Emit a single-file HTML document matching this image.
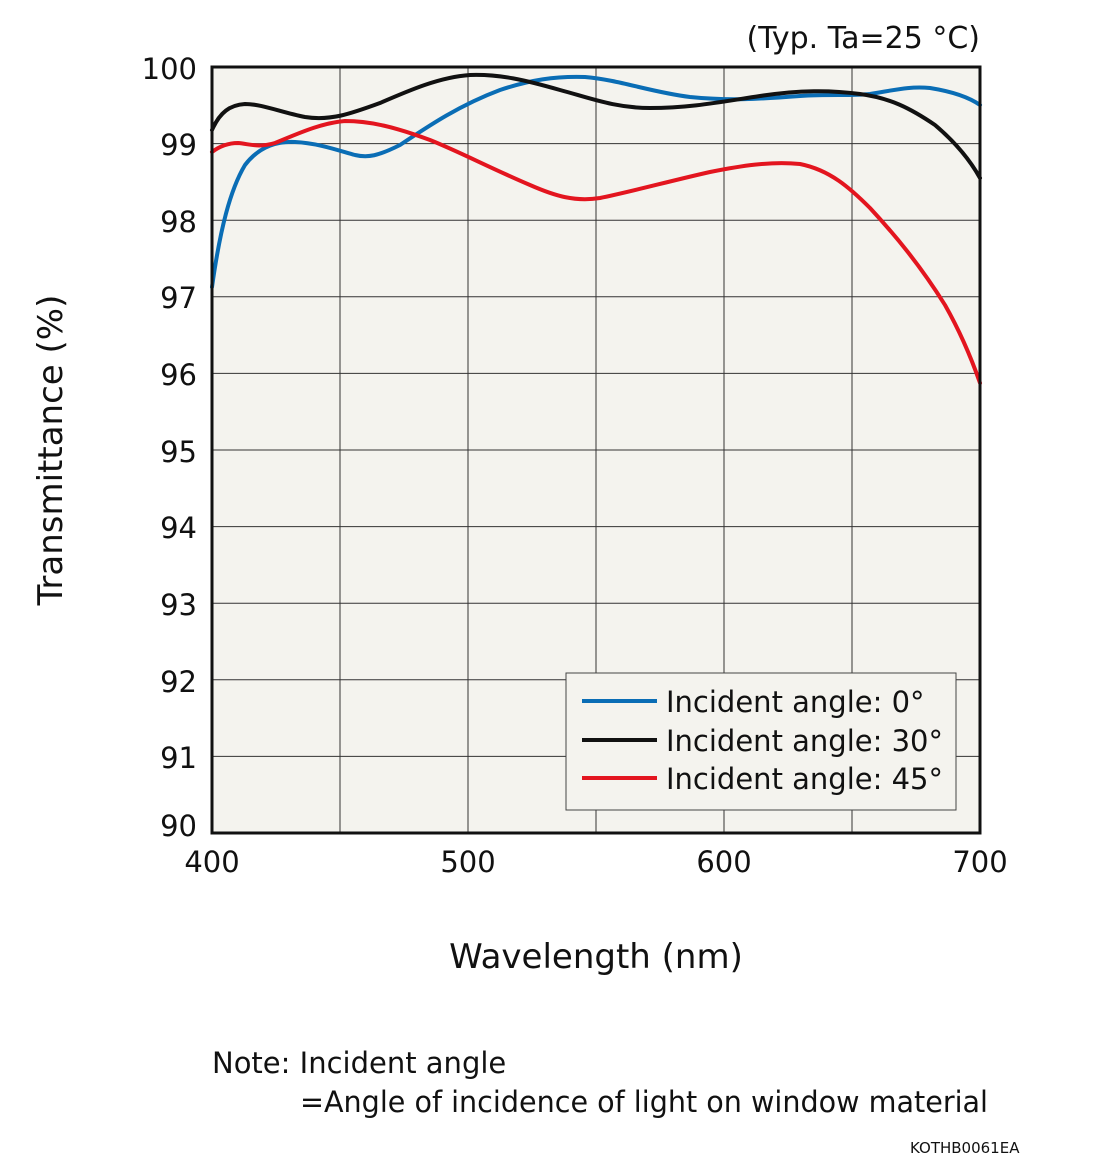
<!DOCTYPE html>
<html><head><meta charset="utf-8"><style>
html,body{margin:0;padding:0;background:#fff;}
svg{display:block;font-family:"DejaVu Sans","Liberation Sans",sans-serif;}
</style></head><body>
<svg width="1110" height="1174" viewBox="0 0 1110 1174" xmlns="http://www.w3.org/2000/svg">
<rect x="212" y="67" width="768" height="766" fill="#f4f3ee"/>
<g stroke="#333" stroke-width="1">
<line x1="340" y1="67" x2="340" y2="833"/><line x1="468" y1="67" x2="468" y2="833"/>
<line x1="596" y1="67" x2="596" y2="833"/><line x1="724" y1="67" x2="724" y2="833"/>
<line x1="852" y1="67" x2="852" y2="833"/>
<line x1="212" y1="143.6" x2="980" y2="143.6"/><line x1="212" y1="220.2" x2="980" y2="220.2"/>
<line x1="212" y1="296.8" x2="980" y2="296.8"/><line x1="212" y1="373.4" x2="980" y2="373.4"/>
<line x1="212" y1="450" x2="980" y2="450"/><line x1="212" y1="526.6" x2="980" y2="526.6"/>
<line x1="212" y1="603.2" x2="980" y2="603.2"/><line x1="212" y1="679.8" x2="980" y2="679.8"/>
<line x1="212" y1="756.4" x2="980" y2="756.4"/>
</g>
<g fill="none" stroke-width="4" stroke-linejoin="round" stroke-linecap="round">
<path stroke="#0a6db5" d="M212,287 C220,230 230,190 245,165 C258,148 275,141 295,142 C318,143 340,151 355,155 C368,158 378,156 400,145 C430,125 460,105 500,90 C530,80 555,76 585,77 C620,80 650,92 690,97 C730,101 760,99 800,96 C830,94 850,96 870,94 C895,90 910,86 930,88 C955,92 970,98 980,105"/>
<path stroke="#111" d="M212,130 C220,112 230,105 245,104 C262,104 280,112 305,117 C330,121 350,114 380,103 C410,90 440,77 470,75 C500,74 525,80 560,90 C590,98 615,108 650,108 C690,108 720,102 760,96 C800,90 830,90 860,94 C890,98 910,108 935,125 C955,142 970,160 980,178"/>
<path stroke="#e3151f" d="M212,152 C220,146 228,143 238,143 C250,144 258,148 275,143 C295,135 320,123 345,121 C370,121 395,127 430,140 C460,152 490,168 530,185 C555,196 575,202 600,198 C630,192 670,181 710,172 C740,166 770,161 800,164 C830,170 850,188 870,208 C895,235 920,265 945,305 C962,335 972,360 980,383"/>
</g>
<rect x="212" y="67" width="768" height="766" fill="none" stroke="#111" stroke-width="3"/>
<rect x="566" y="673" width="390" height="137" fill="#f4f3ee" stroke="#444" stroke-width="1"/>
<g stroke-width="4"><line x1="582" y1="701" x2="657" y2="701" stroke="#0a6db5"/>
<line x1="582" y1="740" x2="657" y2="740" stroke="#111"/>
<line x1="582" y1="778" x2="657" y2="778" stroke="#e3151f"/></g>
<g font-size="29" fill="#111">
<text x="666" y="712">Incident angle: 0°</text>
<text x="666" y="751">Incident angle: 30°</text>
<text x="666" y="789">Incident angle: 45°</text>
<text x="980" y="48" text-anchor="end" font-size="30">(Typ. Ta=25 °C)</text>
</g>
<g font-size="29" fill="#111" text-anchor="end">
<text x="197" y="79">100</text><text x="197" y="155">99</text><text x="197" y="232">98</text>
<text x="197" y="308">97</text><text x="197" y="385">96</text><text x="197" y="462">95</text>
<text x="197" y="538">94</text><text x="197" y="615">93</text><text x="197" y="692">92</text>
<text x="197" y="768">91</text><text x="197" y="836">90</text>
</g>
<g font-size="29" fill="#111" text-anchor="middle">
<text x="212" y="872">400</text><text x="468" y="872">500</text>
<text x="724" y="872">600</text><text x="980" y="872">700</text>
<text x="596" y="968" font-size="34">Wavelength (nm)</text>
<text transform="translate(62,450) rotate(-90)" font-size="34">Transmittance (%)</text>
</g>
<g font-size="29" fill="#111">
<text x="212" y="1073">Note: Incident angle</text>
<text x="300" y="1112" textLength="688" lengthAdjust="spacingAndGlyphs">=Angle of incidence of light on window material</text>
<text x="910" y="1153" font-size="15">KOTHB0061EA</text>
</g>
</svg>
</body></html>
